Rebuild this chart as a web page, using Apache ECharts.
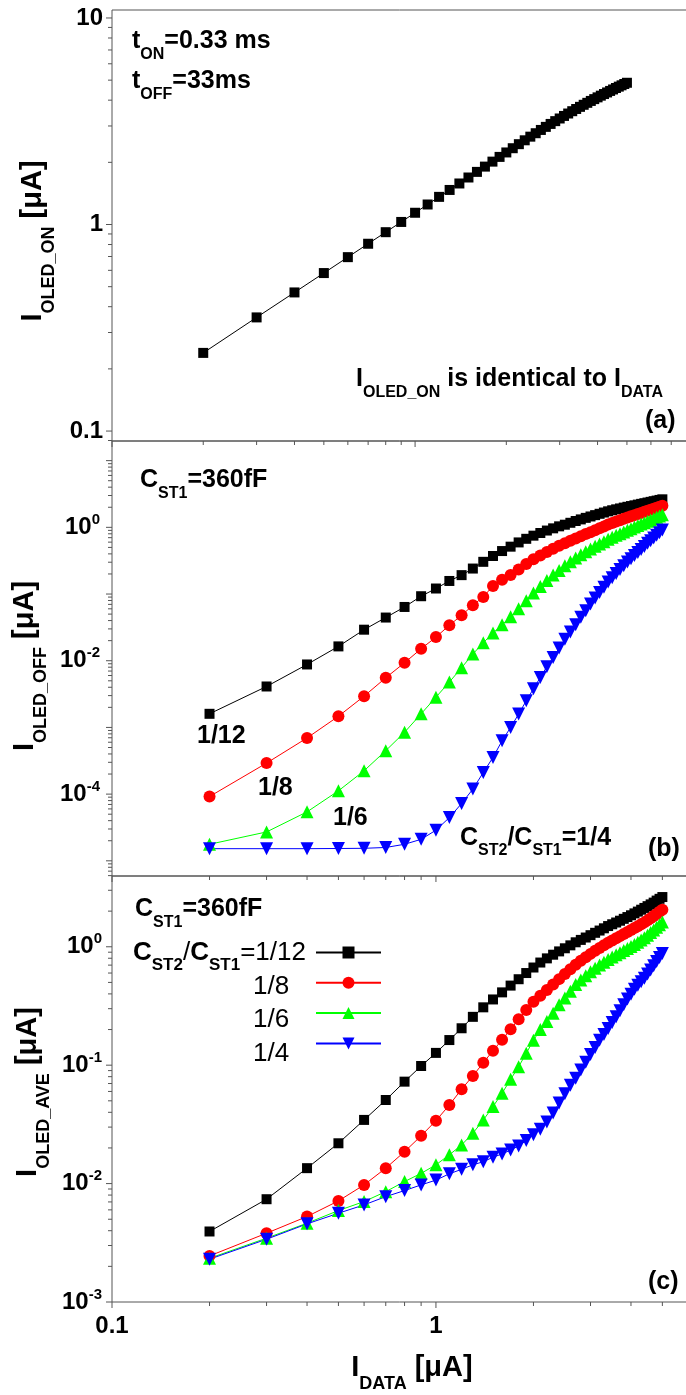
<!DOCTYPE html>
<html>
<head>
<meta charset="utf-8">
<script src="https://cdn.jsdelivr.net/npm/echarts@6/dist/echarts.min.js"></script>
<style>
  html, body { margin: 0; padding: 0; background: #fff; }
  #chart { width: 686px; height: 1395px; }
</style>
</head>
<body>
<div id="chart"></div>
<script>
// Data current I_DATA (µA), shared by every curve
const IDATA = [0.2, 0.3, 0.4, 0.5, 0.6, 0.7, 0.8, 0.9, 1.0,
  1.1, 1.2, 1.3, 1.4, 1.5, 1.6, 1.7, 1.8, 1.9, 2.0,
  2.1, 2.2, 2.3, 2.4, 2.5, 2.6, 2.7, 2.8, 2.9, 3.0,
  3.1, 3.2, 3.3, 3.4, 3.5, 3.6, 3.7, 3.8, 3.9, 4.0,
  4.1, 4.2, 4.3, 4.4, 4.5, 4.6, 4.7, 4.8, 4.9, 5.0];

// (a) OLED current during the on-time (µA)
const ON_A = [0.239, 0.355, 0.469, 0.582, 0.695, 0.807, 0.918, 1.029, 1.140,
  1.250, 1.361, 1.470, 1.580, 1.689, 1.798, 1.907, 2.016, 2.125, 2.233,
  2.341, 2.449, 2.557, 2.663, 2.767, 2.870, 2.970, 3.069, 3.166, 3.261,
  3.355, 3.447, 3.537, 3.626, 3.713, 3.799, 3.883, 3.966, 4.047, 4.127,
  4.206, 4.283, 4.359, 4.434, 4.507, 4.580, 4.651, 4.720, 4.789, 4.856];

// (b) OLED current during the off-time (µA), one array per C_ST2/C_ST1
const OFF_112 = [1.60e-3, 4.11e-3, 8.79e-3, 0.0164, 0.0292, 0.0444, 0.064, 0.0927, 0.121,
  0.157, 0.192, 0.241, 0.304, 0.372, 0.441, 0.513, 0.594, 0.673, 0.750,
  0.822, 0.895, 0.966, 1.035, 1.095, 1.17, 1.245, 1.315, 1.387, 1.455,
  1.524, 1.596, 1.667, 1.738, 1.803, 1.862, 1.919, 1.977, 2.032, 2.084,
  2.138, 2.193, 2.249, 2.301, 2.355, 2.41, 2.466, 2.518, 2.576, 2.63];
const OFF_18 = [9.2e-5, 2.92e-4, 6.95e-4, 1.47e-3, 2.94e-3, 5.55e-3, 9.33e-3, 0.0151, 0.0226,
  0.034, 0.048, 0.0679, 0.0906, 0.1324, 0.164, 0.193, 0.233, 0.281, 0.331,
  0.378, 0.427, 0.478, 0.531, 0.579, 0.63, 0.681, 0.736, 0.793, 0.847,
  0.906, 0.966, 1.028, 1.102, 1.161, 1.222, 1.282, 1.343, 1.403, 1.462,
  1.524, 1.585, 1.644, 1.706, 1.77, 1.837, 1.905, 1.972, 2.042, 2.113];
const OFF_16 = [1.77e-5, 2.71e-5, 5.42e-5, 1.12e-4, 2.24e-4, 4.48e-4, 8.45e-4, 1.6e-3, 2.84e-3,
  4.79e-3, 7.85e-3, 0.0126, 0.0186, 0.026, 0.0347, 0.0457, 0.0603, 0.0794, 0.1035,
  0.130, 0.160, 0.193, 0.226, 0.266, 0.305, 0.347, 0.389, 0.432, 0.473,
  0.519, 0.562, 0.61, 0.661, 0.708, 0.759, 0.804, 0.851, 0.902, 0.955,
  1.012, 1.064, 1.122, 1.175, 1.23, 1.288, 1.349, 1.413, 1.479, 1.549];
const OFF_14 = [1.52e-5, 1.52e-5, 1.52e-5, 1.53e-5, 1.54e-5, 1.585e-5, 1.77e-5, 2.1e-5, 2.88e-5,
  4.45e-5, 7.23e-5, 1.19e-4, 2.11e-4, 3.55e-4, 6.31e-4, 1.0e-3, 1.585e-3, 2.51e-3, 3.8e-3,
  5.62e-3, 8.13e-3, 0.0112, 0.0155, 0.0209, 0.0269, 0.0347, 0.0447, 0.0562, 0.0708,
  0.0871, 0.105, 0.126, 0.151, 0.176, 0.204, 0.234, 0.266, 0.302, 0.339,
  0.377, 0.419, 0.466, 0.518, 0.575, 0.631, 0.692, 0.759, 0.832, 0.912];

// (c) frame-averaged OLED current (µA)
const AVE_112 = [3.94e-3, 7.38e-3, 0.0135, 0.0219, 0.0345, 0.0508, 0.0726, 0.0984, 0.127,
  0.163, 0.205, 0.256, 0.308, 0.359, 0.412, 0.47, 0.532, 0.6, 0.668,
  0.736, 0.798, 0.857, 0.914, 0.971, 1.028, 1.091, 1.143, 1.197, 1.253,
  1.312, 1.371, 1.432, 1.496, 1.549, 1.603, 1.66, 1.722, 1.782, 1.845,
  1.914, 1.982, 2.056, 2.128, 2.203, 2.28, 2.36, 2.455, 2.541, 2.63];
const AVE_18 = [2.45e-3, 3.81e-3, 5.27e-3, 7.14e-3, 9.75e-3, 0.0135, 0.0186, 0.0253, 0.034,
  0.0461, 0.0627, 0.0811, 0.105, 0.1324, 0.164, 0.201, 0.244, 0.292, 0.344,
  0.386, 0.432, 0.481, 0.533, 0.589, 0.646, 0.705, 0.762, 0.817, 0.871,
  0.925, 0.977, 1.028, 1.079, 1.13, 1.18, 1.23, 1.282, 1.334, 1.387,
  1.439, 1.493, 1.549, 1.607, 1.671, 1.742, 1.816, 1.892, 1.972, 2.056];
const AVE_16 = [2.34e-3, 3.46e-3, 4.63e-3, 5.92e-3, 7.05e-3, 8.55e-3, 0.0104, 0.0122, 0.0144,
  0.0175, 0.0212, 0.0266, 0.0344, 0.0447, 0.0579, 0.0759, 0.0971, 0.126, 0.162,
  0.2, 0.234, 0.275, 0.324, 0.37, 0.422, 0.479, 0.525, 0.569, 0.614,
  0.658, 0.7, 0.741, 0.782, 0.818, 0.855, 0.891, 0.929, 0.966, 1.005,
  1.047, 1.091, 1.14, 1.194, 1.253, 1.318, 1.387, 1.459, 1.538, 1.622];
const AVE_14 = [2.3e-3, 3.39e-3, 4.57e-3, 5.62e-3, 6.61e-3, 7.76e-3, 8.73e-3, 9.75e-3, 0.0107,
  0.0121, 0.0132, 0.0144, 0.0153, 0.0167, 0.0178, 0.0192, 0.0208, 0.0231, 0.0258,
  0.0288, 0.0331, 0.0394, 0.0479, 0.0575, 0.0676, 0.0776, 0.0912, 0.106, 0.123,
  0.141, 0.162, 0.182, 0.204, 0.229, 0.257, 0.288, 0.324, 0.363, 0.398,
  0.437, 0.473, 0.507, 0.543, 0.589, 0.638, 0.692, 0.75, 0.813, 0.879];

// capacitor ratios C_ST2/C_ST1
const RATIOS = ['1/12', '1/8', '1/6', '1/4'];

// axis extents
const X_RANGE_A = [0.1, 8.45];
const X_RANGE_BC = [0.1, 6.35];
const Y_RANGE_A = [0.0895, 10.93];
const Y_RANGE_B = [5.92e-6, 19.7];
const Y_RANGE_C = [1e-3, 3.96];
const MINOR_STEPS = [2, 3, 4, 5, 6, 7, 8, 9];

// ---- styling ----
const FONT = '"Liberation Sans", Arial, Helvetica, sans-serif';
const AXIS_COLOR = '#555';
const COLORS = ['#000000', '#ff0000', '#00ff00', '#0000ff'];
const SYMBOLS = ['rect', 'circle', 'triangle', 'triangle'];
const SYMBOL_ROT = [0, 0, 0, 180];
const SYMBOL_SIZE = [10, 12, 13, 13];

function isDecade(v) {
  const l = Math.log10(v);
  return Math.abs(l - Math.round(l)) < 1e-6;
}

// major ticks on decades, minor ticks on 2..9 x decade, inside the extent
function logTicks(range) {
  const out = [];
  const lo = Math.floor(Math.log10(range[0]));
  const hi = Math.ceil(Math.log10(range[1]));
  for (let n = lo; n <= hi; n++) {
    const d = Math.pow(10, n);
    out.push({ v: d, major: true });
    MINOR_STEPS.forEach(k => out.push({ v: k * d, major: false }));
  }
  return out.filter(t => t.v >= range[0] * 0.9999 && t.v <= range[1] * 1.0001);
}

// outward tick marks on the bottom and left edges of one panel
function tickSeries(gi, xr, yr) {
  const data = [];
  logTicks(xr).forEach(t => data.push([t.v, yr[0], t.major ? 6 : 4, 0]));
  logTicks(yr).forEach(t => data.push([xr[0], t.v, t.major ? 6 : 4, 1]));
  return {
    type: 'custom', xAxisIndex: gi, yAxisIndex: gi, silent: true, clip: false, z: 6,
    renderItem(params, api) {
      const p = api.coord([api.value(0), api.value(1)]);
      const len = api.value(2);
      const shape = api.value(3) === 0
        ? { x1: p[0], y1: p[1], x2: p[0], y2: p[1] + len }
        : { x1: p[0] - len, y1: p[1], x2: p[0], y2: p[1] };
      return { type: 'line', shape, style: { stroke: AXIS_COLOR, lineWidth: 1 } };
    },
    data
  };
}

function curve(name, values, i, gi) {
  return {
    type: 'line', name, xAxisIndex: gi, yAxisIndex: gi,
    data: IDATA.map((x, k) => [x, values[k]]),
    symbol: SYMBOLS[i], symbolSize: SYMBOL_SIZE[i], symbolRotate: SYMBOL_ROT[i],
    itemStyle: { color: COLORS[i] },
    lineStyle: { color: COLORS[i], width: 1 },
    emphasis: { disabled: true },
    silent: true
  };
}

const tickLabel = { fontFamily: FONT, fontSize: 24, fontWeight: 'bold', color: '#000' };
const powRich = {
  b: { fontFamily: FONT, fontSize: 24, fontWeight: 'bold', color: '#000', lineHeight: 30 },
  p: { fontFamily: FONT, fontSize: 15, fontWeight: 'bold', color: '#000', lineHeight: 15, verticalAlign: 'top' }
};

function xAxis(gi, range, withLabels) {
  return {
    type: 'log', logBase: 10, gridIndex: gi, min: range[0], max: range[1],
    axisLine: { show: false }, axisTick: { show: false }, splitLine: { show: false },
    axisLabel: Object.assign({}, tickLabel, {
      show: withLabels, margin: 12,
      formatter: v => (isDecade(v) ? String(+v.toPrecision(3)) : '')
    })
  };
}

function yAxis(gi, range, formatter, margin) {
  return {
    type: 'log', logBase: 10, gridIndex: gi, min: range[0], max: range[1],
    axisLine: { show: false }, axisTick: { show: false }, splitLine: { show: false },
    axisLabel: Object.assign({}, tickLabel, { margin, formatter, rich: powRich })
  };
}

const gridBase = { left: 112, width: 584, show: true, borderColor: AXIS_COLOR, borderWidth: 1,
  backgroundColor: 'transparent', containLabel: false, outerBoundsMode: 'none' };

// ---- text annotations ----
const RICH = {
  m: { fontFamily: FONT, fontSize: 25, fontWeight: 'bold', fill: '#000', lineHeight: 42 },
  s: { fontFamily: FONT, fontSize: 16, fontWeight: 'bold', fill: '#000', lineHeight: 16, verticalAlign: 'bottom' },
  L: { fontFamily: FONT, fontSize: 26, fontWeight: 'normal', fill: '#000', lineHeight: 42 },
  LB: { fontFamily: FONT, fontSize: 26, fontWeight: 'bold', fill: '#000', lineHeight: 42 },
  LS: { fontFamily: FONT, fontSize: 17, fontWeight: 'bold', fill: '#000', lineHeight: 16, verticalAlign: 'bottom' },
  M: { fontFamily: FONT, fontSize: 29, fontWeight: 'bold', fill: '#000', lineHeight: 50 },
  S: { fontFamily: FONT, fontSize: 18, fontWeight: 'bold', fill: '#000', lineHeight: 18, verticalAlign: 'bottom' }
};

function note(x, y, text) {
  return { type: 'text', x, y, silent: true, z: 20,
    style: { text, rich: RICH, align: 'left', verticalAlign: 'top', fontFamily: FONT } };
}
function axisTitle(x, y, text, rotated) {
  return { type: 'text', x, y, rotation: rotated ? Math.PI / 2 : 0, silent: true, z: 20,
    style: { text, rich: RICH, align: 'center', verticalAlign: 'middle', fontFamily: FONT } };
}

const graphics = [
  axisTitle(33, 241, '{M|I}{S|OLED_ON}{M| [μA]}', true),
  axisTitle(25, 666, '{M|I}{S|OLED_OFF}{M| [μA]}', true),
  axisTitle(28, 1092, '{M|I}{S|OLED_AVE}{M| [μA]}', true),
  axisTitle(412, 1368, '{M|I}{S|DATA}{M| [μA]}', false),

  note(132, 20.3, '{m|t}{s|ON}{m|=0.33 ms}'),
  note(132, 60.3, '{m|t}{s|OFF}{m|=33ms}'),
  note(356, 358.6, '{m|I}{s|OLED_ON}{m| is identical to I}{s|DATA}'),
  note(645, 400, '{m|(a)}'),

  note(140, 459.6, '{m|C}{s|ST1}{m|=360fF}'),
  note(197, 715.3, '{m|1/12}'),
  note(258, 767, '{m|1/8}'),
  note(333, 797, '{m|1/6}'),
  note(460, 817, '{m|C}{s|ST2}{m|/C}{s|ST1}{m|=1/4}'),
  note(648, 828, '{m|(b)}'),

  note(135, 888.6, '{m|C}{s|ST1}{m|=360fF}'),
  note(133, 932, '{LB|C}{LS|ST2}{L|/}{LB|C}{LS|ST1}{L|=1/12}'),
  note(253, 966, '{L|1/8}'),
  note(253, 999.3, '{L|1/6}'),
  note(253, 1032.7, '{L|1/4}'),
  note(648, 1261, '{m|(c)}')
];

const offSets = [OFF_112, OFF_18, OFF_16, OFF_14];
const aveSets = [AVE_112, AVE_18, AVE_16, AVE_14];

const option = {
  animation: false,
  backgroundColor: '#ffffff',
  grid: [
    Object.assign({ top: 10, height: 431 }, gridBase),
    Object.assign({ top: 441, height: 435 }, gridBase),
    Object.assign({ top: 876, height: 426 }, gridBase)
  ],
  xAxis: [
    xAxis(0, X_RANGE_A, false),
    xAxis(1, X_RANGE_BC, false),
    xAxis(2, X_RANGE_BC, true)
  ],
  yAxis: [
    yAxis(0, Y_RANGE_A, v => (isDecade(v) ? '{b|' + String(+v.toPrecision(3)) + '}' : ''), 9),
    yAxis(1, Y_RANGE_B, v => {
      if (!isDecade(v)) return '';
      const n = Math.round(Math.log10(v));
      return n % 2 === 0 ? '{b|10}{p|' + n + '}' : '';
    }, 12),
    yAxis(2, Y_RANGE_C, v => (isDecade(v) ? '{b|10}{p|' + Math.round(Math.log10(v)) + '}' : ''), 10)
  ],
  legend: {
    data: RATIOS, orient: 'vertical', left: 315, top: 946.5, padding: 0,
    itemWidth: 65, itemHeight: 15, itemGap: 18.3, selectedMode: false,
    formatter: () => '', textStyle: { fontSize: 10, lineHeight: 15 }
  },
  graphic: graphics,
  series: [
    tickSeries(0, X_RANGE_A, Y_RANGE_A),
    tickSeries(1, X_RANGE_BC, Y_RANGE_B),
    tickSeries(2, X_RANGE_BC, Y_RANGE_C),
    curve('ON', ON_A, 0, 0),
    ...offSets.map((vals, i) => curve('OFF ' + RATIOS[i], vals, i, 1)),
    ...aveSets.map((vals, i) => curve(RATIOS[i], vals, i, 2))
  ]
};

const chart = echarts.init(document.getElementById('chart'), null, { renderer: 'canvas' });
chart.setOption(option);
</script>
</body>
</html>
